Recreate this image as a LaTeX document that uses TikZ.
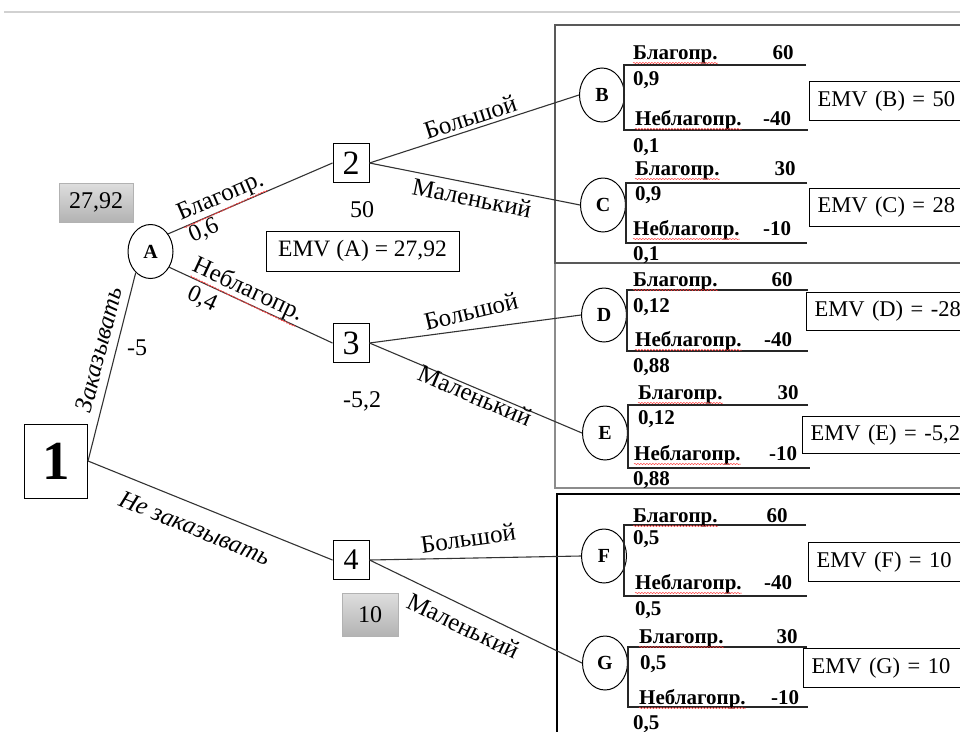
\documentclass[tikz,border=0pt]{standalone}
\usepackage{fontspec}
\setmainfont{Liberation Serif}
\usetikzlibrary{shapes.geometric,decorations.pathmorphing}
\newcommand\sz[1]{\fontsize{#1}{#1}\selectfont}
\newcommand\squiggle[1]{\draw[spell] ([yshift=-4pt]#1.base west) -- ([yshift=-4pt]#1.base east);}
\begin{document}
\begin{tikzpicture}[x=1pt,y=-1pt,
  every node/.append style={font=\sz{24}},
  decision/.style={draw, rectangle, line width=1pt, inner sep=0pt, minimum width=36pt, minimum height=39pt, font=\sz{34}},
  chance/.style={draw, ellipse, line width=1pt, inner sep=0pt, minimum width=45pt, minimum height=54pt, font=\bfseries\sz{20}},
  branch/.style={line width=1.1pt, draw=black!80},
  lbl/.style={font=\sz{25}, inner sep=1pt},
  prob/.style={font=\sz{24}, inner sep=1pt},
  gain/.style={font=\bfseries\sz{21}, inner sep=0pt, anchor=base west},
  pay/.style={font=\bfseries\sz{21}, inner sep=0pt, anchor=base},
  fork/.style={line width=1.1pt, draw=black!85},
  emv/.style={draw, line width=1pt, anchor=north west, inner xsep=8pt, inner ysep=0pt, text width=180pt, align=left, font=\sz{22.5}},
  valbox/.style={draw=black!30, top color=black!13, bottom color=black!30, inner sep=0pt, font=\sz{24}},
  spell/.style={draw=red!75, line width=0.5pt, decorate, decoration={snake, segment length=3pt, amplitude=0.6pt}},
]
\useasboundingbox (0,0) rectangle (960,731);
\fill[white] (0,0) rectangle (960,731);
\begin{scope}
\clip (0,0) rectangle (960,731);
\draw[black!18, line width=1.5pt] (4,12) -- (960,12);

% frames round the three pairs of outcome nodes
\draw[black!45, line width=2pt] (555,263) rectangle (1000,488);
\draw[black!65, line width=2pt] (555,25) rectangle (1000,263);
\draw[black, line width=2pt] (557,494) rectangle (1000,760);

% decision and chance nodes
\node[decision, font=\bfseries\sz{55}, minimum width=63pt, minimum height=74pt] (n1) at (56,461) {1};
\node[chance] (A) at (150.5,251.5) {A};
\node[decision] (n2) at (351,163) {2};
\node[decision] (n3) at (351,343) {3};
\node[decision, font=\sz{30}] (n4) at (351,560) {4};
\node[chance] (B) at (602,95) {B};
\node[chance] (C) at (603,205) {C};
\node[chance] (D) at (604,315) {D};
\node[chance] (E) at (605,433) {E};
\node[chance] (F) at (604,556) {F};
\node[chance] (G) at (605,663) {G};

% values next to the nodes
\node[valbox, minimum width=74pt, minimum height=39pt] (vA) at (96,202.5) {27,92};
\node (v2) at (362,210) {50};
\node[draw, line width=1pt, minimum width=193pt, minimum height=40pt, inner sep=0pt, font=\sz{23.5}] (eA) at (362.5,251) {EMV (A) = 27,92};
\node (v3) at (362,401) {-5,2};
\node[valbox, minimum width=56pt, minimum height=43pt] (v4) at (370,614.5) {10};

% branches
\draw[branch] (n1.east) -- node[lbl, sloped, above=7pt, pos=0.57, font=\itshape\sz{25}] (lOrd) {Заказывать}
  node[prob, pos=0.6, right=9pt] (cOrd) {-5} (A.-125);
\draw[branch] (n1.east) -- node[lbl, sloped, below=12pt, pos=0.47, font=\itshape\sz{25}] (lNo) {Не заказывать} (n4.west);
\draw[branch] (A.45) -- node[lbl, sloped, above, pos=0.35] (lFav) {Благопр.}
  node[prob, sloped, below, pos=0.19] (pFav) {0,6} (n2.west);
\draw[branch] (A.-40) -- node[lbl, sloped, above, inner sep=0pt, pos=0.45] (lUnf) {Неблагопр.}
  node[prob, sloped, below=4pt, pos=0.24] (pUnf) {0,4} (n3.west);
\draw[branch] (n2.east) -- node[lbl, sloped, above=2.5pt, pos=0.5] (l2B) {Большой} (B.west);
\draw[branch] (n2.east) -- node[lbl, sloped, below=4pt, pos=0.5] (l2C) {Маленький} (C.west);
\draw[branch] (n3.east) -- node[lbl, sloped, rotate=6, above=8pt, pos=0.5] (l3D) {Большой} (D.west);
\draw[branch] (n3.east) -- node[lbl, sloped, below=-3pt, pos=0.51] (l3E) {Маленький} (E.west);
\draw[branch] (n4.east) -- node[lbl, sloped, rotate=7, above=10pt, pos=0.48] (l4F) {Большой} (F.west);
\draw[branch] (n4.east) -- node[lbl, sloped, below=8pt, pos=0.48] (l4G) {Маленький} (G.west);
\draw[spell] ([xshift=2pt]lFav.south west) -- ([xshift=-2pt]lFav.south east);
\draw[spell] ([xshift=2pt]lUnf.south west) -- ([xshift=-2pt]lUnf.south east);

% outcome forks
\draw[fork] (806,65) -- (624,65) -- (624,130) -- (808,130);
\draw[fork] (807,183) -- (626,183) -- (626,243) -- (807,243);
\draw[fork] (808,290) -- (627,290) -- (627,351) -- (808,351);
\draw[fork] (808,405) -- (628,405) -- (628,468) -- (810,468);
\draw[fork] (806,525) -- (624,525) -- (624,596) -- (807,596);
\draw[fork] (807,647) -- (628,647) -- (628,707) -- (808,707);

% outcomes of B
\node[gain] (Bg) at (633,59) {Благопр.};
\node[pay] (Bgv) at (783,59) {60};
\node[gain] (Bgp) at (633,85) {0,9};
\node[gain] (Bb) at (635,125) {Неблагопр.};
\node[pay] (Bbv) at (777,125) {-40};
\node[gain] (Bbp) at (633,152) {0,1};
\node[emv, minimum height=39pt] (eB) at (809,81) {EMV (B) = 50};
% outcomes of C
\node[gain] (Cg) at (635,175) {Благопр.};
\node[pay] (Cgv) at (785,175) {30};
\node[gain] (Cgp) at (635,200) {0,9};
\node[gain] (Cb) at (633,235) {Неблагопр.};
\node[pay] (Cbv) at (777,235) {-10};
\node[gain] (Cbp) at (633,260) {0,1};
\node[emv, minimum height=38pt] (eC) at (809,188) {EMV (C) = 28};
% outcomes of D
\node[gain] (Dg) at (633,286) {Благопр.};
\node[pay] (Dgv) at (782,286) {60};
\node[gain] (Dgp) at (633,312) {0,12};
\node[gain] (Db) at (635,346) {Неблагопр.};
\node[pay] (Dbv) at (778,346) {-40};
\node[gain] (Dbp) at (633,372) {0,88};
\node[emv, minimum height=38pt] (eD) at (806,292) {EMV (D) = -28};
% outcomes of E
\node[gain] (Eg) at (638,399) {Благопр.};
\node[pay] (Egv) at (788,399) {30};
\node[gain] (Egp) at (638,424) {0,12};
\node[gain] (Eb) at (634,460) {Неблагопр.};
\node[pay] (Ebv) at (783,460) {-10};
\node[gain] (Ebp) at (633,485) {0,88};
\node[emv, minimum height=37pt] (eE) at (802,416) {EMV (E) = -5,2};
% outcomes of F
\node[gain] (Fg) at (633,522) {Благопр.};
\node[pay] (Fgv) at (777,522) {60};
\node[gain] (Fgp) at (633,544) {0,5};
\node[gain] (Fb) at (635,589) {Неблагопр.};
\node[pay] (Fbv) at (778,589) {-40};
\node[gain] (Fbp) at (635,615) {0,5};
\node[emv, minimum height=39pt] (eF) at (808,542) {EMV (F) = 10};
% outcomes of G
\node[gain] (Gg) at (639,643) {Благопр.};
\node[pay] (Ggv) at (787,643) {30};
\node[gain] (Ggp) at (640,669) {0,5};
\node[gain] (Gb) at (639,704) {Неблагопр.};
\node[pay] (Gbv) at (785,704) {-10};
\node[gain] (Gbp) at (633,729) {0,5};
\node[emv, minimum height=39pt] (eG) at (803,648) {EMV (G) = 10};

\squiggle{Bg}\squiggle{Bb}\squiggle{Cg}\squiggle{Cb}
\squiggle{Dg}\squiggle{Db}\squiggle{Eg}\squiggle{Eb}
\squiggle{Fg}\squiggle{Fb}\squiggle{Gg}\squiggle{Gb}
\end{scope}
\end{tikzpicture}
\end{document}
